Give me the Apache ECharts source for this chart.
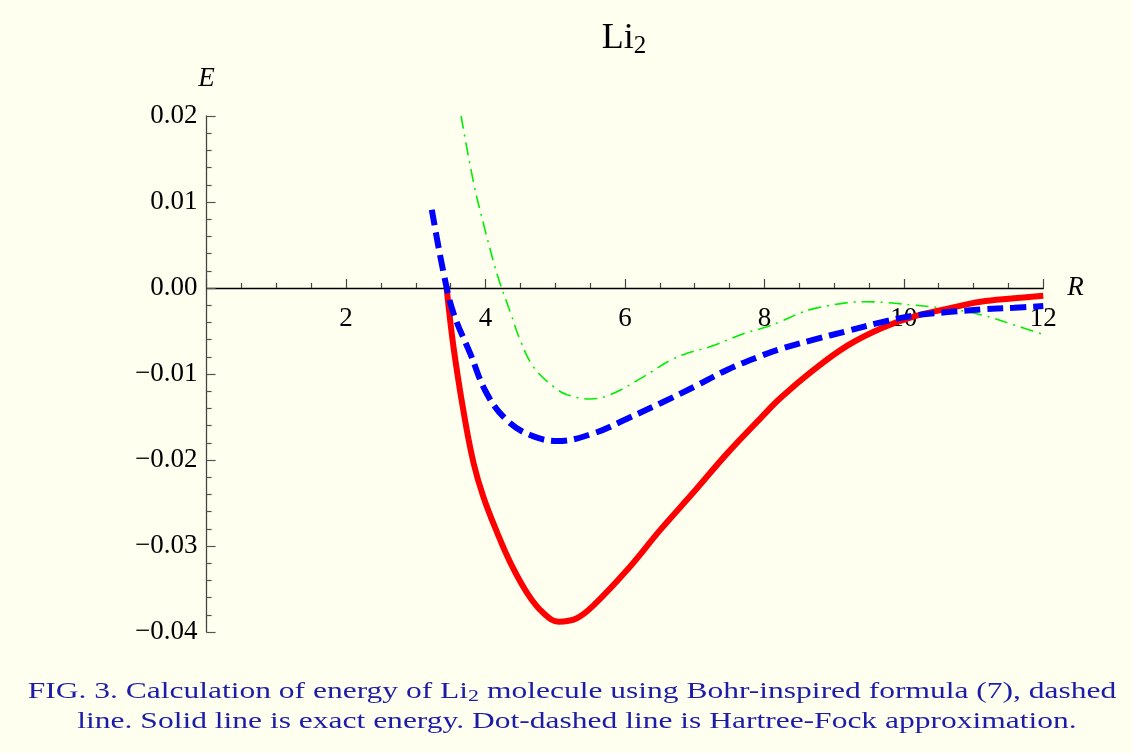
<!DOCTYPE html>
<html>
<head>
<meta charset="utf-8">
<script src="https://cdn.jsdelivr.net/npm/echarts@6/dist/echarts.min.js"></script>
<style>
html,body{margin:0;padding:0;background:#fffff0;}
#chart{width:1132px;height:753px;}
</style>
</head>
<body>
<div id="chart"></div>
<script>
// ---- data ----
const xTickLabels = ['', '2', '4', '6', '8', '10', '12'];
const yTickLabels = ['\u22120.04', '\u22120.03', '\u22120.02', '\u22120.01', '0.00', '0.01', '0.02'];

// Exact energy (solid red)
const exactR = [3.44, 3.54, 3.69, 3.83, 3.97, 4.17, 4.36, 4.60, 4.83, 5.05, 5.31, 5.55, 6.03, 6.51, 6.99, 7.47, 7.95, 8.23, 8.71, 9.19, 9.67, 10.15, 10.63, 11.10, 11.58, 12.0];
const exactE = [0.0002, -0.0068, -0.0146, -0.0204, -0.0243, -0.0285, -0.0320, -0.0355, -0.0378, -0.0388, -0.0384, -0.0369, -0.0328, -0.0281, -0.0237, -0.0192, -0.0151, -0.0128, -0.0095, -0.0067, -0.0047, -0.0033, -0.0024, -0.0016, -0.0012, -0.0009];

// Bohr-inspired formula (dashed blue)
const bohrR = [3.23, 3.40, 3.54, 3.78, 4.02, 4.31, 4.64, 5.03, 5.55, 6.03, 6.51, 6.99, 7.47, 7.95, 8.23, 8.71, 9.19, 9.67, 10.15, 10.63, 11.10, 11.58, 12.0];
const bohrE = [0.0091, 0.0017, -0.0029, -0.0076, -0.0123, -0.0154, -0.0171, -0.0178, -0.0169, -0.0152, -0.0134, -0.0115, -0.0095, -0.0079, -0.0071, -0.0060, -0.0050, -0.0040, -0.0032, -0.0028, -0.0025, -0.0023, -0.0021];

// Hartree-Fock (dot-dashed green)
const hfR = [3.65, 3.83, 3.97, 4.12, 4.21, 4.36, 4.50, 4.69, 4.98, 5.17, 5.50, 5.79, 6.27, 6.65, 6.89, 7.23, 7.71, 8.04, 8.23, 8.52, 8.71, 9.19, 9.43, 9.76, 10.15, 10.63, 11.10, 11.58, 12.0];
const hfE = [0.0200, 0.0122, 0.0075, 0.0029, 0.0005, -0.0029, -0.0061, -0.0092, -0.0115, -0.0124, -0.0129, -0.0124, -0.0103, -0.0084, -0.0076, -0.0068, -0.0053, -0.0045, -0.0039, -0.0029, -0.0024, -0.0017, -0.0016, -0.0017, -0.0020, -0.0024, -0.0031, -0.0043, -0.0054];

const xMin = 0, xMax = 12, xStep = 2;
const yMin = -0.04, yMax = 0.02, yStep = 0.01;

function pairs(xs, ys) { return xs.map((x, i) => [x, ys[i]]); }

const FONT = 'Liberation Serif';
const CAP = '#1c1ca8';
const chart = echarts.init(document.getElementById('chart'), null, {renderer: 'canvas'});

// grid geometry
const gridTop = 116, gridBottom = 121, plotH = 753 - gridTop - gridBottom;
const zeroOffset = -plotH * (0 - yMin) / (yMax - yMin); // move x axis up to E = 0

chart.setOption({
  backgroundColor: '#fffff0',
  animation: false,
  title: {
    text: 'Li{sub|2}',
    left: 619,
    top: 14,
    textAlign: 'center',
    textStyle: {
      fontFamily: FONT, fontSize: 36, fontWeight: 'normal', color: '#000',
      rich: { sub: { fontFamily: FONT, fontSize: 25, color: '#000', verticalAlign: 'bottom', padding: [15, 0, 0, 0] } }
    }
  },
  grid: { left: 206.6, right: 88.7, top: gridTop, bottom: gridBottom, containLabel: false },
  xAxis: {
    type: 'value', min: xMin, max: xMax, interval: xStep,
    position: 'bottom', offset: zeroOffset,
    name: 'R', nameLocation: 'end', nameGap: 24,
    nameTextStyle: { fontFamily: FONT, fontStyle: 'italic', fontSize: 27, color: '#000' },
    axisLine: { onZero: false, lineStyle: { color: '#000', width: 1.3 } },
    axisTick: { inside: true, length: 9, lineStyle: { color: '#444', width: 1.2 } },
    minorTick: { show: true, splitNumber: 4, length: 5, lineStyle: { color: '#444', width: 1.2 } },
    splitLine: { show: false },
    axisLabel: {
      margin: 17, fontFamily: FONT, fontSize: 27, color: '#000',
      formatter: v => xTickLabels[Math.round((v - xMin) / xStep)] || ''
    }
  },
  yAxis: {
    type: 'value', min: yMin, max: yMax, interval: yStep,
    name: 'E', nameLocation: 'end', nameGap: 24,
    nameTextStyle: { fontFamily: FONT, fontStyle: 'italic', fontSize: 27, color: '#000', align: 'center' },
    axisLine: { onZero: false, lineStyle: { color: '#444', width: 1.3 } },
    axisTick: { inside: true, length: 9, lineStyle: { color: '#555', width: 1.2 } },
    minorTick: { show: true, splitNumber: 5, length: 5, lineStyle: { color: '#555', width: 1.2 } },
    splitLine: { show: false },
    axisLabel: {
      margin: 9, fontFamily: FONT, fontSize: 27, color: '#000',
      formatter: v => yTickLabels[Math.round((v - yMin) / yStep)]
    }
  },
  series: [
    {
      name: 'Hartree-Fock', type: 'line', data: pairs(hfR, hfE), showSymbol: false, smooth: 0.4,
      lineStyle: { color: '#00ee00', width: 1.6, type: [13, 6, 2, 6] }, z: 2
    },
    {
      name: 'Exact', type: 'line', data: pairs(exactR, exactE), showSymbol: false, smooth: 0.4,
      lineStyle: { color: '#ff0000', width: 6, cap: 'butt' }, z: 3
    },
    {
      name: 'Bohr', type: 'line', data: pairs(bohrR, bohrE), showSymbol: false, smooth: 0.4,
      lineStyle: { color: '#0000ff', width: 6, type: [16, 7] }, z: 4
    }
  ],
  graphic: [
    {
      type: 'text', x: 572, y: 692, scaleX: 1.37,
      style: {
        text: 'FIG. 3. Calculation of energy of Li{sub|2} molecule using Bohr-inspired formula (7), dashed',
        fontFamily: FONT, fontSize: 23, fill: CAP, align: 'center', verticalAlign: 'middle',
        rich: { sub: { fontFamily: FONT, fontSize: 16, fill: CAP, padding: [10, 0, 0, 0] } }
      }
    },
    {
      type: 'text', x: 577, y: 722, scaleX: 1.37,
      style: {
        text: 'line. Solid line is exact energy. Dot-dashed line is Hartree-Fock approximation.',
        fontFamily: FONT, fontSize: 23, fill: CAP, align: 'center', verticalAlign: 'middle'
      }
    }
  ]
});
</script>
</body>
</html>
